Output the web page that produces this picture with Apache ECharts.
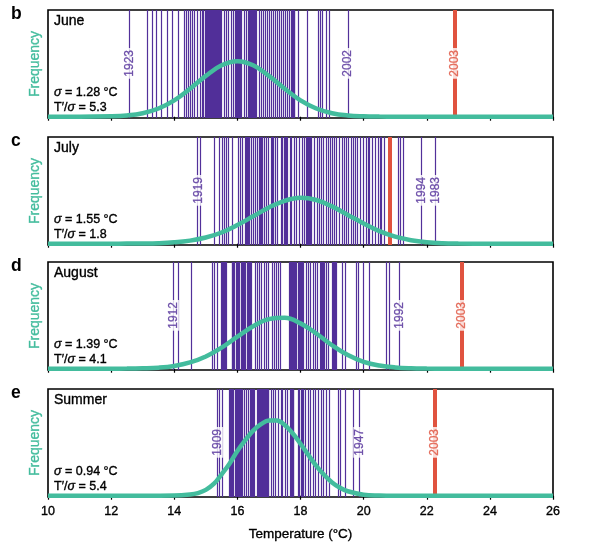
<!DOCTYPE html>
<html><head><meta charset="utf-8">
<script src="https://cdn.jsdelivr.net/npm/echarts@6/dist/echarts.min.js"></script>
<style>html,body{margin:0;padding:0;background:#fff}#c{width:608px;height:554px}</style>
</head><body><div id="c"></div>
<script>
// ---------- data ----------
const panelLetters = ['b', 'c', 'd', 'e'];
const panelNames = ['June', 'July', 'August', 'Summer'];
const sigmaText = ['1.28', '1.55', '1.39', '0.94'];
const ratioText = ['5.3', '1.8', '4.1', '5.4'];

const juneTemps = [12.58, 13.15, 13.30, 13.45, 13.61, 13.80, 13.93, 14.12, 14.32, 14.39, 14.45, 14.52, 14.58, 14.65, 14.73, 14.82, 14.88, 14.94,
  15.00, 15.03, 15.06, 15.09, 15.12, 15.15, 15.18, 15.21, 15.24, 15.27, 15.30, 15.33, 15.36, 15.39, 15.42, 15.45,
  15.51, 15.58, 15.64, 15.72, 15.80, 15.87, 15.94, 15.97, 16.00, 16.03, 16.06, 16.09, 16.12, 16.21, 16.30,
  16.36, 16.39, 16.42, 16.45, 16.48, 16.52, 16.55, 16.58, 16.61,
  16.70, 16.76, 16.82, 16.89, 16.95, 17.01, 17.08, 17.14, 17.20, 17.27, 17.33, 17.39, 17.46, 17.52, 17.58, 17.65,
  17.71, 17.74, 17.77, 17.80, 17.82, 17.94, 18.22, 18.58, 18.64, 18.71, 18.83, 18.92, 19.51];
const juneRecord = [22.9];

const julyTemps = [14.73, 14.84, 15.26, 15.43, 15.53, 15.60, 15.66, 15.72, 15.83, 16.04, 16.10, 16.17,
  16.27, 16.30, 16.33, 16.36, 16.38, 16.44, 16.51, 16.57, 16.63, 16.70, 16.73, 16.76, 16.80, 16.87, 16.93, 16.99,
  17.08, 17.11, 17.14, 17.20, 17.27, 17.41, 17.44, 17.48, 17.51, 17.54, 17.57, 17.60,
  17.67, 17.73, 17.82, 17.88, 17.96, 18.05, 18.13, 18.20, 18.23, 18.26, 18.29, 18.32, 18.36,
  18.45, 18.53, 18.60, 18.66, 18.72, 18.83, 18.89, 18.96, 19.02, 19.08, 19.15, 19.25, 19.32, 19.38, 19.46, 19.53,
  19.61, 19.67, 19.74, 19.82, 19.91, 19.99, 20.08, 20.14, 20.20, 20.29, 20.37, 20.46, 20.52, 20.58, 20.67,
  21.09, 21.17, 21.25, 21.83, 22.27];
const julyRecord = [20.83];

const augustTemps = [13.97, 14.13, 14.55, 15.21, 15.27, 15.37, 15.51, 15.54, 15.57, 15.60, 15.63, 15.66,
  15.83, 15.86, 15.89, 15.92, 15.96, 15.99, 16.02, 16.05, 16.08, 16.12, 16.15, 16.18, 16.21, 16.24, 16.27, 16.31, 16.34, 16.37, 16.40,
  16.46, 16.57, 16.63, 16.70, 16.78, 16.86, 16.93, 16.99, 17.10, 17.18, 17.25, 17.31, 17.37,
  17.65, 17.68, 17.71, 17.74, 17.78, 17.81, 17.84, 17.86, 17.94, 17.97, 17.99, 18.02, 18.05,
  18.11, 18.20, 18.26, 18.32, 18.41, 18.47, 18.53, 18.64, 18.67, 18.70, 18.73, 18.77, 18.83, 18.89,
  19.02, 19.05, 19.07, 19.10, 19.13, 19.32, 19.44, 19.76, 19.84, 19.99, 20.18, 20.71, 20.81, 21.13];
const augustRecord = [23.11];

const summerTemps = [15.37, 15.43, 15.53, 15.75, 15.78, 15.81, 15.84, 15.87,
  15.94, 15.97, 15.99, 16.02, 16.04, 16.07, 16.09, 16.12, 16.15, 16.21, 16.30, 16.36,
  16.42, 16.45, 16.48, 16.51, 16.55, 16.63, 16.66, 16.69, 16.72, 16.74, 16.77, 16.79, 16.82, 16.84, 16.87, 16.90, 16.93, 16.95, 16.98, 17.00,
  17.08, 17.16, 17.22, 17.31, 17.39, 17.43, 17.52, 17.60, 17.69, 17.72, 17.74, 17.77, 17.79,
  17.94, 17.98, 18.02, 18.06, 18.09, 18.17, 18.26, 18.32, 18.41, 18.49, 18.58, 18.66, 18.74, 18.83, 18.91,
  19.19, 19.27, 19.44, 19.69, 19.86];
const summerRecord = [22.25];

const juneLabelYears = ['1923', '2002', '2003'];
const juneLabelTemps = [12.58, 19.51, 22.9];
const julyLabelYears = ['1919', '1994', '1983'];
const julyLabelTemps = [14.77, 21.83, 22.27];
const augustLabelYears = ['1912', '1992', '2003'];
const augustLabelTemps = [13.97, 21.13, 23.11];
const summerLabelYears = ['1909', '1947', '2003'];
const summerLabelTemps = [15.37, 19.86, 22.25];

const curveT = [10, 11, 12, 12.5, 13, 13.5, 14, 14.5, 15, 15.5, 16, 16.5, 17, 17.5, 18, 18.5, 19, 19.5, 20, 20.5, 21, 21.5, 22, 22.5, 23, 24, 25, 26];
const juneCurve = [0, 0, 0.004, 0.012, 0.033, 0.077, 0.153, 0.262, 0.383, 0.482, 0.52, 0.482, 0.383, 0.262, 0.153, 0.077, 0.033, 0.012, 0.004, 0.001, 0, 0, 0, 0, 0, 0, 0, 0];
const julyCurve = [0, 0, 0, 0.001, 0.002, 0.005, 0.013, 0.029, 0.058, 0.105, 0.175, 0.257, 0.340, 0.402, 0.430, 0.410, 0.350, 0.270, 0.190, 0.118, 0.066, 0.033, 0.014, 0.005, 0.002, 0, 0, 0];
const augustCurve = [0, 0, 0, 0.001, 0.004, 0.010, 0.026, 0.059, 0.115, 0.198, 0.300, 0.398, 0.465, 0.477, 0.425, 0.330, 0.220, 0.128, 0.065, 0.030, 0.012, 0.004, 0.001, 0, 0, 0, 0, 0];
const summerT = [10, 11, 12, 13, 14, 14.5, 14.75, 15, 15.25, 15.5, 15.75, 16, 16.25, 16.5, 16.75, 17, 17.25, 17.5, 17.75, 18, 18.25, 18.5, 18.75, 19, 19.25, 19.5, 20, 20.5, 21, 22, 23, 24, 25, 26];
const summerCurve = [0, 0, 0, 0, 0.002, 0.012, 0.025, 0.055, 0.11, 0.20, 0.30, 0.42, 0.52, 0.61, 0.67, 0.705, 0.705, 0.662, 0.585, 0.487, 0.381, 0.280, 0.194, 0.125, 0.075, 0.042, 0.010, 0.002, 0, 0, 0, 0, 0, 0];

// ---------- styling ----------
const PURPLE = '#52309a', RED = '#e0533f', TEAL = '#43bc9d';
const FONT = 'Liberation Sans, Arial, Helvetica, sans-serif';
const Y_MIN = -0.012, Y_MAX = 1;
const tops = [10, 137, 262, 389];
const H = 108;

const panels = [
  {temps: juneTemps, rec: juneRecord, ly: juneLabelYears, lt: juneLabelTemps, ct: curveT, cv: juneCurve},
  {temps: julyTemps, rec: julyRecord, ly: julyLabelYears, lt: julyLabelTemps, ct: curveT, cv: julyCurve},
  {temps: augustTemps, rec: augustRecord, ly: augustLabelYears, lt: augustLabelTemps, ct: curveT, cv: augustCurve},
  {temps: summerTemps, rec: summerRecord, ly: summerLabelYears, lt: summerLabelTemps, ct: summerT, cv: summerCurve}
];

function vlines(gi, temps, color, width, z) {
  return {
    type: 'custom', xAxisIndex: gi, yAxisIndex: gi, z: z, silent: true, clip: true,
    data: temps.map(t => [t, 0]),
    encode: {x: 0, y: 1},
    renderItem: (params, api) => {
      const x = api.value(0);
      const p1 = api.coord([x, Y_MIN]);
      const p2 = api.coord([x, Y_MAX]);
      const px = (width < 2) ? Math.round(p1[0] - 0.5) + 0.5 : Math.round(p1[0]);
      return {type: 'line', shape: {x1: px, y1: p1[1], x2: px, y2: p2[1]}, style: {stroke: color, lineWidth: width}};
    }
  };
}

function txt(x, y, text, size, color, extra) {
  return Object.assign({type: 'text', x: x, y: y, style: Object.assign({
    text: text, fontSize: size, fontFamily: FONT, fill: color, verticalAlign: 'top',
    stroke: color, lineWidth: 0.35
  }, extra || {})});
}

const grids = [], xAxes = [], yAxes = [], series = [], graphics = [];
panels.forEach((p, i) => {
  grids.push({left: 48, right: 55, top: tops[i], height: H, show: true, borderColor: '#000', borderWidth: 1.6, backgroundColor: 'transparent'});
  xAxes.push({
    type: 'value', gridIndex: i, min: 10, max: 26, interval: 2,
    axisLine: {show: false}, splitLine: {show: false},
    axisTick: {show: true, inside: false, length: 4, lineStyle: {color: '#000', width: 1.2}},
    axisLabel: {show: i === 3, color: '#000', fontSize: 12.5, fontFamily: FONT, margin: 8, textBorderColor: '#000', textBorderWidth: 0.35},
    name: i === 3 ? 'Temperature (°C)' : '', nameLocation: 'middle', nameGap: 30,
    nameTextStyle: {color: '#000', fontSize: 13.5, fontFamily: FONT, textBorderColor: '#000', textBorderWidth: 0.35}
  });
  yAxes.push({
    type: 'value', gridIndex: i, min: Y_MIN, max: Y_MAX,
    axisLine: {show: false}, axisTick: {show: false}, axisLabel: {show: false}, splitLine: {show: false},
    name: 'Frequency', nameLocation: 'middle', nameGap: 6,
    nameTextStyle: {color: TEAL, fontSize: 14, fontFamily: FONT, textBorderColor: TEAL, textBorderWidth: 0.35}
  });
  series.push(vlines(i, p.temps, PURPLE, 1.2, 1));
  series.push(vlines(i, p.rec, RED, 4, 2));
  series.push({
    type: 'line', xAxisIndex: i, yAxisIndex: i, z: 3, silent: true,
    data: p.ct.map((t, k) => [t, p.cv[k]]), smooth: 0.4, showSymbol: false, symbol: 'none',
    lineStyle: {color: TEAL, width: 4.5}
  });
  series.push({
    type: 'scatter', xAxisIndex: i, yAxisIndex: i, z: 5, silent: true, symbolSize: 0,
    data: p.ly.map((y, k) => ({
      name: y, value: [p.lt[k], 0.5],
      label: {color: (y === '2003') ? RED : PURPLE, textBorderColor: (y === '2003') ? RED : PURPLE}
    })),
    label: {show: true, position: 'inside', rotate: 90, formatter: d => d.name, fontSize: 12, fontFamily: FONT,
      textBorderWidth: 0.3, backgroundColor: '#fff', padding: [0, 2]}
  });
  graphics.push({type: 'text', x: 11, y: tops[i] - 5, style: {text: panelLetters[i], fontSize: 17.5, fontWeight: 'bold', fontFamily: FONT, fill: '#000', verticalAlign: 'top'}});
  graphics.push(txt(54, tops[i] + 4, panelNames[i], 14, '#000'));
  graphics.push(txt(54, tops[i] + 76, '{i|σ} = ' + sigmaText[i] + ' °C', 12.5, '#000',
    {rich: {i: {fontStyle: 'italic', fontSize: 12.5, fontFamily: FONT, fill: '#000', stroke: '#000', lineWidth: 0.35}}}));
  graphics.push(txt(54, tops[i] + 91, 'T′/{i|σ} = ' + ratioText[i], 12.5, '#000',
    {rich: {i: {fontStyle: 'italic', fontSize: 12.5, fontFamily: FONT, fill: '#000', stroke: '#000', lineWidth: 0.35}}}));
});

const chart = echarts.init(document.getElementById('c'), null, {renderer: 'canvas'});
chart.setOption({
  animation: false,
  backgroundColor: '#fff',
  grid: grids, xAxis: xAxes, yAxis: yAxes, series: series, graphic: graphics
});
</script></body></html>
